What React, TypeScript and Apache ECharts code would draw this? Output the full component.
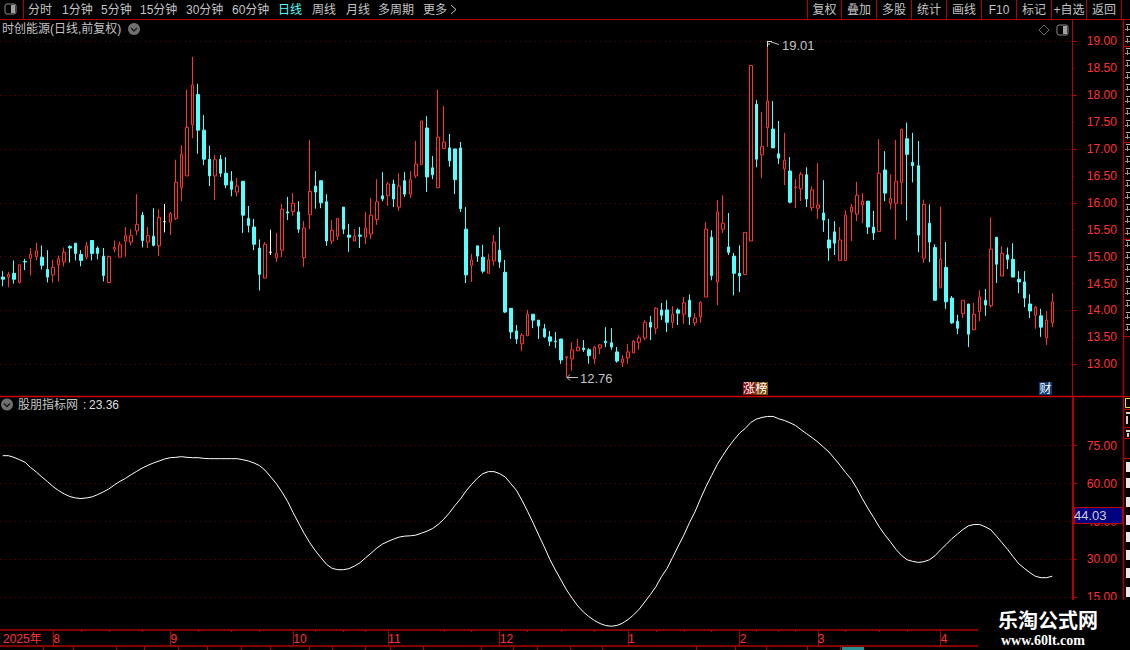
import React, { useEffect, useRef } from "react";
import * as echarts from "echarts";

// [open, close, low, high]
const ohlc: number[][] = [
[14.62,14.58,14.45,14.73],[14.62,14.67,14.43,14.72],[14.69,14.58,14.50,14.93],[14.52,14.85,14.50,14.85],[14.91,14.90,14.75,14.96],
[14.97,15.04,14.65,15.16],[15.00,15.11,14.93,15.26],[14.99,14.84,14.76,15.21],[14.76,14.62,14.52,15.12],[14.66,14.80,14.52,14.94],
[14.85,14.96,14.54,15.02],[14.90,15.08,14.82,15.17],[15.19,15.16,14.89,15.21],[15.25,15.06,14.93,15.25],[15.04,14.93,14.82,15.12],
[14.99,15.20,14.95,15.27],[15.30,15.06,14.93,15.30],[15.16,15.06,14.95,15.19],[15.01,14.65,14.54,15.16],[14.52,15.00,14.52,15.02],
[15.14,15.17,15.08,15.30],[14.99,15.22,14.99,15.28],[15.29,15.39,15.00,15.55],[15.27,15.39,15.21,15.51],[15.48,15.60,15.40,16.16],
[15.77,15.30,15.17,15.83],[15.27,15.39,15.16,15.55],[15.38,15.21,15.19,15.90],[15.20,15.73,15.01,15.88],[15.65,15.65,15.45,15.98],
[15.64,15.80,15.40,15.83],[15.71,16.38,15.68,16.80],[16.28,16.90,16.03,17.07],[16.50,17.40,16.50,18.10],[17.45,18.19,17.20,18.71],
[18.01,17.35,16.91,18.21],[17.35,16.81,16.70,17.63],[16.81,16.50,16.31,17.06],[16.50,16.80,16.05,16.89],[16.81,16.55,16.48,16.89],
[16.55,16.33,16.27,16.85],[16.40,16.25,16.12,16.59],[16.20,16.31,16.12,16.46],[16.40,15.77,15.44,16.40],[15.71,15.58,15.45,15.94],
[15.55,15.23,15.12,15.70],[15.16,14.67,14.37,15.32],[14.60,15.23,14.60,15.27],[15.08,15.08,15.03,15.50],[14.98,15.06,14.90,15.44],
[15.12,15.88,14.99,15.98],[15.83,15.81,15.68,16.11],[15.84,15.99,15.76,16.18],[15.83,15.51,15.44,16.03],[14.98,15.53,14.81,15.66],
[15.78,16.21,15.51,17.17],[16.31,16.20,15.89,16.59],[16.41,16.00,15.90,16.41],[16.02,15.29,15.20,16.16],[15.29,15.49,15.23,15.68],
[15.38,15.71,15.31,15.71],[15.92,15.51,15.42,15.92],[15.40,15.36,15.09,15.61],[15.29,15.38,15.29,15.51],[15.40,15.38,15.16,15.55],
[15.36,15.53,15.23,15.83],[15.42,15.77,15.33,16.09],[15.69,16.02,15.59,16.44],[16.13,16.07,16.03,16.57],[16.13,16.35,15.94,16.39],
[16.35,16.07,15.92,16.43],[15.92,16.31,15.85,16.55],[16.41,16.16,16.11,16.57],[16.16,16.43,16.09,16.59],[16.50,16.72,16.46,17.15],
[16.71,17.52,16.71,17.52],[17.39,16.48,16.20,17.61],[16.65,16.52,16.44,16.87],[16.28,17.22,16.28,18.10],[17.01,17.13,17.01,17.80],
[17.02,16.78,16.67,17.28],[17.00,16.43,16.16,17.00],[17.02,15.89,15.83,17.13],[15.51,14.66,14.51,15.92],[14.84,14.94,14.53,15.05],
[15.20,15.01,14.90,15.20],[14.99,14.73,14.69,15.22],[14.69,14.94,14.69,15.05],[14.92,15.27,14.83,15.40],[15.12,14.90,14.79,15.55],
[14.71,13.97,13.95,14.94],[14.04,13.60,13.47,14.04],[13.62,13.47,13.38,13.73],[13.38,13.54,13.25,13.58],[13.53,13.93,13.53,14.01],
[13.93,13.82,13.67,13.93],[13.82,13.71,13.47,13.82],[13.66,13.51,13.49,13.75],[13.51,13.43,13.34,13.62],[13.43,13.42,13.30,13.60],
[13.47,13.08,13.01,13.47],[13.12,13.14,12.76,13.14],[13.10,13.27,12.88,13.41],[13.25,13.32,13.25,13.47],[13.30,13.27,13.23,13.45],
[13.27,13.16,13.01,13.30],[13.10,13.32,13.01,13.34],[13.30,13.36,13.19,13.38],[13.43,13.40,13.32,13.69],[13.40,13.32,13.27,13.67],
[13.23,13.06,13.03,13.32],[13.03,13.10,12.95,13.17],[13.12,13.23,13.01,13.38],[13.21,13.43,13.21,13.45],[13.41,13.49,13.27,13.54],
[13.49,13.78,13.45,13.82],[13.78,13.69,13.45,13.90],[13.67,14.04,13.56,14.06],[14.01,13.91,13.82,14.14],[14.01,13.78,13.60,14.19],
[13.78,13.93,13.67,14.08],[14.01,13.95,13.73,14.04],[13.93,14.14,13.75,14.25],[14.19,13.88,13.73,14.30],[13.77,13.86,13.71,13.95],
[13.88,14.15,13.77,14.17],[14.25,15.51,14.25,15.64],[15.36,14.65,14.56,15.49],[14.53,15.83,14.10,16.05],[15.51,15.62,15.44,16.14],
[15.18,15.08,15.03,15.81],[15.01,14.69,14.28,15.07],[14.69,14.64,14.34,15.21],[14.67,15.45,14.67,15.45],[15.29,18.55,15.29,18.55],
[17.83,16.81,16.66,17.91],[16.89,17.05,16.46,17.69],[17.40,17.89,17.04,19.01],[17.37,17.02,17.02,17.89],[16.91,16.83,16.72,17.52],
[16.63,16.79,16.33,17.30],[16.59,16.01,15.99,16.85],[16.28,16.29,15.90,16.44],[16.26,16.53,16.03,16.57],[16.52,16.07,15.92,16.66],
[15.91,16.24,15.85,16.31],[15.90,15.96,15.70,16.74],[15.81,15.68,15.46,16.42],[15.31,15.16,14.92,15.70],[15.46,15.25,15.03,15.66],
[14.93,15.31,14.93,15.55],[14.93,15.77,14.93,15.86],[15.83,15.92,15.29,15.98],[15.79,16.14,15.66,16.39],[15.96,16.03,15.62,16.18],
[16.03,15.55,15.42,16.03],[15.55,15.44,15.31,15.85],[15.47,16.55,15.47,17.18],[16.61,16.18,16.03,16.96],[15.99,16.08,15.88,16.53],
[15.99,16.40,15.32,17.17],[16.38,17.36,15.97,17.38],[17.19,16.90,15.67,17.49],[16.75,16.69,16.38,17.30],[16.69,15.40,15.08,17.15],
[14.97,15.97,14.88,16.06],[15.62,15.27,14.90,15.97],[15.17,14.19,14.18,15.23],[14.42,14.95,14.42,15.93],[14.80,14.16,14.03,15.27],
[14.23,13.77,13.75,14.27],[13.80,13.67,13.56,13.92],[13.94,14.19,13.86,14.19],[14.12,13.56,13.32,14.12],[13.64,13.93,13.64,14.14],
[13.98,14.25,13.80,14.38],[14.19,14.10,13.90,14.40],[14.09,15.14,14.05,15.73],[15.36,14.86,14.51,15.36],[14.64,15.06,14.64,15.19],
[15.03,14.95,14.77,15.17],[14.95,14.62,14.62,15.25],[14.58,14.53,14.32,14.73],[14.53,14.23,14.06,14.73],[14.12,13.99,13.86,14.30],
[13.91,14.06,13.66,14.08],[13.90,13.69,13.51,14.03],[13.49,13.82,13.36,13.99],[13.77,14.16,13.69,14.32],
];

const indicator: number[] = [
71.05,71.05,70.39,69.47,68.42,66.32,64.61,62.63,60.79,58.82,57.24,55.92,54.87,54.34,54.08,54.34,54.74,55.66,56.71,57.89,
59.47,60.92,62.11,63.55,64.87,66.18,67.24,68.16,68.95,69.74,70.26,70.39,70.66,70.39,70.26,70.26,70.0,69.87,69.87,69.87,
69.87,69.87,69.87,69.47,68.95,68.16,67.11,65.26,62.63,60.0,56.71,53.03,48.55,44.34,40.26,36.58,33.42,30.66,28.03,26.45,
25.92,25.92,26.32,27.37,28.68,30.66,32.5,34.47,36.05,37.11,38.03,38.82,39.21,39.34,39.61,40.39,41.18,42.24,43.82,45.92,
48.42,51.32,53.95,57.11,59.74,62.11,63.95,64.74,64.74,63.95,62.63,60.0,57.37,53.42,49.08,44.47,39.61,35.0,30.0,25.79,
21.84,17.89,14.61,11.58,9.21,7.37,5.79,4.61,3.82,3.55,3.82,4.74,6.18,8.03,10.26,13.16,16.05,19.21,23.16,26.45,
30.79,35.26,39.61,44.47,48.82,54.08,58.95,63.29,67.63,71.18,74.47,77.37,80.0,81.84,84.21,85.53,86.18,86.58,86.58,85.66,
85.0,84.08,83.03,81.32,79.74,78.16,76.45,74.47,72.5,69.87,67.24,64.34,61.71,58.03,53.95,50.13,46.58,42.89,39.74,36.97,
33.95,31.58,29.87,29.21,28.82,29.08,29.87,31.45,33.82,35.92,38.16,40.0,41.84,43.29,43.82,43.82,42.89,41.71,39.21,36.58,
33.95,31.05,28.29,26.45,24.74,23.29,22.76,22.76,23.36,
];

const emptySlots = 3;
const categories: string[] = Array.from({ length: ohlc.length + emptySlots }, (_, i) => String(i));
const monthLabels: Record<string, string> = { "0": "2025年", "9": "8", "30": "9", "52": "10", "69": "11", "89": "12", "112": "1", "132": "2", "146": "3", "168": "4" };
const monthTicks = [9, 30, 52, 69, 89, 112, 132, 146, 168];
const weekTicks = [14, 19, 25, 35, 41, 46, 56, 61, 65, 79, 84, 94, 100, 106, 117, 122, 127, 135, 139, 142, 151, 157, 162];
const whiteFlat = [29, 48];

const toolbarLeft: [string, number][] = [["分时", 28], ["1分钟", 62], ["5分钟", 101], ["15分钟", 140], ["30分钟", 186], ["60分钟", 232], ["周线", 312], ["月线", 346], ["多周期", 378], ["更多", 423]];
const toolbarRight = ["复权", "叠加", "多股", "统计", "画线", "F10", "标记", "+自选", "返回"];
const toolbarSeps = [807, 841, 876, 911, 946, 981, 1016, 1051, 1086, 1121];
const bottomRowTicks = [43, 73, 116, 144, 178, 207, 241, 270, 309, 332, 365, 390, 423, 481, 513, 537, 570, 602, 696, 735, 766, 807, 840];
const sidebarLines = [46, 142, 239, 336, 396, 409, 427, 438, 458];
const sidebarOnes = [467, 483, 502, 520, 537, 555, 573, 592];

const RED = "#ff3232";
const LINE = "#b40000";
const GRID = "#7a0000";
const CYAN = "#54ffff";
const TXT = "#c4c4c4";
const FONT = '"Liberation Sans","Noto Sans CJK SC",sans-serif';

const line = (x1: number, y1: number, x2: number, y2: number, stroke = LINE, lineWidth = 1, z = 50) => ({
  type: "line", z, silent: true, shape: { x1, y1, x2, y2 }, style: { stroke, lineWidth },
});
const text = (x: number, y: number, t: string, fill = TXT, extra: any = {}, z = 60) => ({
  type: "text", z, silent: true, x, y,
  style: { text: t, fill, font: `12px ${FONT}`, textVerticalAlign: "middle", verticalAlign: "middle", ...extra },
});
const rect = (x: number, y: number, width: number, height: number, fill: string, stroke?: string, z = 55) => ({
  type: "rect", z, silent: true, shape: { x, y, width, height }, style: { fill, stroke, lineWidth: 1 },
});
const button = (cx: number, cy: number) => [
  { type: "circle", z: 60, silent: true, shape: { cx, cy, r: 6 }, style: { fill: "#707070" } },
  { type: "polyline", z: 61, silent: true, shape: { points: [[cx - 3, cy - 1], [cx, cy + 2], [cx + 3, cy - 1]] }, style: { stroke: "#1a1a1a", lineWidth: 1.4, fill: "none" } },
];
const panelIcon = (x: number, y: number) => [
  { type: "rect", z: 60, silent: true, shape: { x, y, width: 11, height: 10, r: 2 }, style: { fill: "none", stroke: "#8a8a8a", lineWidth: 1 } },
  rect(x + 6, y + 1, 4, 8, "#a0a0a0", undefined, 61),
];

function overlay(): any[] {
  const g: any[] = [];
  // toolbar
  g.push(line(0, 19.5, 1130, 19.5, LINE), line(23.5, 0, 23.5, 19, LINE));
  g.push(...panelIcon(5, 4));
  toolbarLeft.forEach(([t, x]) => g.push(text(x, 9.5, t)));
  g.push(text(278, 9.5, "日线", CYAN));
  g.push({ type: "polyline", z: 60, silent: true, shape: { points: [[451, 5], [456, 9.5], [451, 14]] }, style: { stroke: TXT, lineWidth: 1, fill: "none" } });
  toolbarSeps.forEach((x) => g.push(line(x + 0.5, 0, x + 0.5, 19, LINE)));
  toolbarRight.forEach((t, i) => g.push(text((toolbarSeps[i] + toolbarSeps[i + 1]) / 2 + 0.5, 9.5, t, TXT, { textAlign: "center", align: "center" })));
  // upper panel header
  g.push(text(2, 29, "时创能源(日线,前复权)"), ...button(134, 29));
  g.push({ type: "polygon", z: 60, silent: true, shape: { points: [[1044, 25], [1049, 30], [1044, 35], [1039, 30]] }, style: { fill: "none", stroke: "#6a6a6a", lineWidth: 1 } });
  g.push(...panelIcon(1057, 25));
  // frame
  g.push(line(1072.5, 20, 1072.5, 396, LINE), line(0, 396.5, 1123, 396.5, "#cc0000", 1.5));
  g.push(line(1073, 397, 1073, 600, LINE, 2), line(1123.5, 20, 1123.5, 600, LINE, 1.5));
  // extreme annotations
  g.push(line(767.5, 41, 767.5, 47, "#dddddd"), line(767, 41.5, 772, 41.5, "#dddddd"), line(767, 44, 770, 44, "#dddddd"), line(771, 42, 779, 44.5, TXT));
  g.push(text(782, 45.5, "19.01", TXT, { font: `13px ${FONT}` }));
  g.push(line(567, 377.5, 578, 377.5, TXT), line(567, 377.5, 570, 374.5, TXT), line(567, 377.5, 570, 380.5, TXT));
  g.push(text(580, 378, "12.76", TXT, { font: `13px ${FONT}` }));
  // badges
  g.push(rect(743, 382, 12, 13, "#8b0a0a"), text(743, 388.5, "涨", "#ffffff"));
  g.push(rect(755, 382, 13, 13, "#7a4a10"), text(755.5, 388.5, "榜", "#ffffff"));
  g.push(rect(1039, 382, 13, 13, "#0a3c78"), text(1039.5, 388.5, "财", "#ffffff"));
  // lower panel header
  g.push(...button(7, 404.5), text(18, 405, "股朋指标网"), text(83, 405, ":", "#dddddd"), text(89, 405, "23.36", "#dddddd"));
  // current value box
  g.push(rect(1074.5, 507.5, 48, 16, "#000080", "#c00000", 58), text(1074, 515.5, "44.03", "#d0d0d0", { font: `13px ${FONT}` }, 60));
  // right sidebar fragments
  sidebarLines.forEach((y) => g.push(line(1124, y + 0.5, 1130, y + 0.5, "#cc0000")));
  g.push(rect(1125.5, 398.5, 5, 9, "none", "#e8e820"));
  g.push(rect(1126, 412, 4, 2, "#d0d0d0"), rect(1126, 416, 2, 8, "#d0d0d0"), rect(1126, 430, 4, 2, "#d0d0d0"), rect(1127, 433, 2, 4, "#d0d0d0"));
  for (let y = 24; y < 335; y += 12) {
    g.push(rect(1126, y, 4, 1, "#b8b8b8"), rect(1127, y + 2, 1, 5, "#a0a0a0"), rect(1125, y + 5, 5, 1, "#909090"));
  }
  sidebarOnes.forEach((y) => g.push(rect(1126, y - 5, 4, 10, "#e8e8e8")));
  // row below the time strip
  bottomRowTicks.forEach((x) => g.push(line(x + 0.5, 647, x + 0.5, 650, LINE)));
  g.push(rect(842, 647, 22, 3, "#2a9090"));
  // watermark
  g.push(rect(978, 600, 152, 50, "#000000", undefined, 90));
  g.push(text(998, 619, "乐淘公式网", "#ffffff", { font: `bold 20px "Noto Sans CJK SC",sans-serif` }, 91));
  g.push(text(1001, 640, "www.60lt.com", "#ffffff", { font: `bold 14px "Liberation Serif",serif` }, 91));
  return g;
}

const candleData = ohlc.map((row, i) =>
  whiteFlat.includes(i)
    ? { value: row, itemStyle: { color: "#ffffff", color0: "#ffffff", borderColor: "#ffffff", borderColor0: "#ffffff" } }
    : row,
);

const LEFT = -0.5;
const WIDTH = 1072.3;
const hiddenY = (gridIndex: number) => ({ type: "value", gridIndex, show: false, min: 0, max: 1 });
const dotted = { show: true, lineStyle: { color: GRID, type: [1, 4] as number[], width: 1 } };

const option: any = {
  animation: false,
  backgroundColor: "#000000",
  textStyle: { fontFamily: FONT },
  grid: [
    { left: LEFT, width: WIDTH, top: 41.3, height: 323 },
    { left: LEFT, width: WIDTH, top: 445.7, height: 151.6 },
    { left: LEFT, width: WIDTH, top: 630, height: 16 },
    { left: LEFT, width: WIDTH, top: 630, height: 16 },
  ],
  xAxis: [
    { type: "category", gridIndex: 0, data: categories, show: false },
    { type: "category", gridIndex: 1, data: categories, show: false },
    {
      type: "category", gridIndex: 2, data: categories, position: "top",
      axisLine: { show: true, onZero: false, lineStyle: { color: LINE, width: 1.5 } },
      axisTick: { show: true, inside: true, length: 16, alignWithLabel: true, interval: (i: number) => monthTicks.includes(i), lineStyle: { color: LINE } },
      axisLabel: { show: true, inside: true, interval: 0, margin: 3, align: "left", padding: [0, 0, 0, 0], color: RED, fontSize: 12, fontFamily: FONT, formatter: (v: string) => monthLabels[v] || "" },
    },
    {
      type: "category", gridIndex: 2, data: categories, position: "bottom",
      axisLine: { show: true, onZero: false, lineStyle: { color: LINE, width: 1.5 } },
      axisTick: { show: false }, axisLabel: { show: false },
    },
    {
      type: "category", gridIndex: 3, data: categories, position: "top",
      axisLine: { show: false, onZero: false },
      axisTick: { show: true, inside: true, length: 2, alignWithLabel: true, interval: (i: number) => weekTicks.includes(i), lineStyle: { color: LINE } },
      axisLabel: { show: false },
    },
  ],
  yAxis: [
    {
      type: "value", gridIndex: 0, position: "right", min: 13, max: 19, interval: 0.5, scale: true,
      axisLine: { show: false }, splitLine: { show: false },
      axisTick: { show: true, length: 2, lineStyle: { color: LINE } },
      axisLabel: { show: true, margin: 15, align: "left", padding: [2, 0, 0, 0], color: RED, fontSize: 12, fontFamily: FONT, formatter: (v: number) => v.toFixed(2) },
    },
    {
      type: "value", gridIndex: 0, position: "right", min: 13, max: 19, interval: 1, scale: true,
      axisLine: { show: false }, splitLine: dotted,
      axisTick: { show: true, length: 5, lineStyle: { color: LINE } }, axisLabel: { show: false },
    },
    {
      type: "value", gridIndex: 1, position: "right", min: 15, max: 75, interval: 7.5,
      axisLine: { show: false }, splitLine: { show: false },
      axisTick: { show: true, length: 2, lineStyle: { color: LINE } }, axisLabel: { show: false },
    },
    {
      type: "value", gridIndex: 1, position: "right", min: 15, max: 75, interval: 15,
      axisLine: { show: false }, splitLine: dotted,
      axisTick: { show: true, length: 5, lineStyle: { color: LINE } },
      axisLabel: { show: true, margin: 15, align: "left", color: RED, fontSize: 12, fontFamily: FONT, formatter: (v: number) => v.toFixed(2) },
    },
    hiddenY(2),
    hiddenY(3),
  ],
  series: [
    {
      type: "candlestick", xAxisIndex: 0, yAxisIndex: 0, data: candleData, clip: false, silent: true,
      barWidth: 3,
      itemStyle: { color: "#000000", color0: CYAN, borderColor: RED, borderColor0: CYAN, borderWidth: 1 },
    },
    {
      type: "line", xAxisIndex: 1, yAxisIndex: 3, data: indicator, clip: false, silent: true,
      showSymbol: false, symbol: "none", smooth: false, lineStyle: { color: "#ffffff", width: 1 },
    },
  ],
  graphic: { elements: overlay() },
};

export default function App() {
  const ref = useRef<HTMLDivElement>(null);
  useEffect(() => {
    document.body.style.margin = "0";
    document.body.style.background = "#000";
    const chart = echarts.init(ref.current!, undefined, { renderer: "svg" });
    chart.setOption(option);
    return () => chart.dispose();
  }, []);
  return <div ref={ref} style={{ position: "absolute", left: 0, top: 0, width: 1130, height: 650, overflow: "hidden" }} />;
}
